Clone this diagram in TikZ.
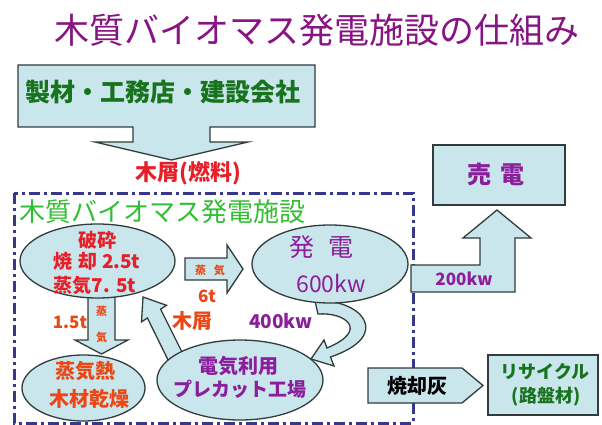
\documentclass[tikz,border=0pt]{standalone}
\usepackage{fontspec}
\setmainfont{Noto Sans CJK JP}
\usetikzlibrary{shapes.geometric}
\definecolor{lb}{RGB}{200,230,235}
\definecolor{edge}{RGB}{50,60,60}
\definecolor{ttl}{RGB}{135,20,130}
\definecolor{dgreen}{RGB}{25,115,30}
\definecolor{lgreen}{RGB}{50,190,50}
\definecolor{red1}{RGB}{232,30,40}
\definecolor{orng}{RGB}{236,70,20}
\definecolor{purp}{RGB}{140,30,155}
\definecolor{navy}{RGB}{55,55,140}
\newcommand\fsz[1]{\fontsize{#1}{#1}\selectfont}
\begin{document}
\begin{tikzpicture}[x=1pt,y=-1pt,
  blk/.style={fill=lb,draw=edge,line width=1.3pt,line join=miter},
  ell/.style={ellipse,draw=edge,fill=lb,line width=1.3pt,inner sep=0},
  txt/.style={inner sep=0,anchor=center}]
\useasboundingbox (0,0) rectangle (602,425);
\fill[white] (0,0) rectangle (602,425);

% title
\node[txt,text=ttl,font=\fsz{35}] (title) at (317,30) {木質バイオマス発電施設の仕組み};

% company box with arrow
\draw[blk] (18,65) -- (315,65) -- (315,127) -- (210,127) -- (210,142) -- (248,142)
  -- (171.5,160) -- (95,142) -- (133,142) -- (133,127) -- (18,127) -- cycle;
\node[txt,text=dgreen,font=\fsz{25}\bfseries] (comp) at (163,92) {製材・工務店・建設会社};
\node[txt,text=red1,font=\fsz{22}\bfseries] (fuel) at (188,173) {木屑(燃料)};

% facility border
\draw[navy,line width=3pt,dash pattern=on 11pt off 4pt on 3pt off 4pt] (14,193) rectangle (413,423);
\node[txt,anchor=west,text=lgreen,font=\fsz{26}] (fac) at (19,212) {木質バイオマス発電施設};

% 200kw bent arrow
\draw[blk] (411,265) -- (480,265) -- (480,238) -- (463,238) -- (497,210) -- (531,238)
  -- (515,238) -- (515,292) -- (411,292) -- cycle;
\node[txt,text=purp,font=\fsz{17}\bfseries] (kw200) at (464,279) {200kw};

% sale box
\node[draw=edge,fill=lb,line width=1.3pt,minimum width=132,minimum height=60,inner sep=0] (sale) at (499,175) {};
\node[txt,text=purp,font=\fsz{24}\bfseries] (saletxt) at (496,174) {売\hspace{10pt}電};

% steam arrow right
\draw[blk] (185,258) -- (227,258) -- (227,245) -- (243,269) -- (227,293) -- (227,280) -- (185,280) -- cycle;
\node[txt,text=orng,font=\fsz{11}\bfseries] (st1) at (210,270) {蒸\hspace{8pt}気};
\node[txt,text=orng,font=\fsz{17}\bfseries] (t6) at (207,296) {6t};

% steam arrow down
\draw[blk] (88,285) -- (115,285) -- (115,340) -- (128,340) -- (101.5,354) -- (75,340) -- (88,340) -- cycle;
\node[txt,text=orng,font=\fsz{11}\bfseries] (st2a) at (101.5,311) {蒸};
\node[txt,text=orng,font=\fsz{11}\bfseries] (st2b) at (101.5,337) {気};
\node[txt,text=orng,font=\fsz{17}\bfseries] (t15) at (70,322) {1.5t};

% wood chip arrow diagonal
\draw[blk] (143,297) -- (166.5,305.3) -- (160.6,309.2) -- (186,360) -- (172,368)
  -- (147.4,318) -- (141.5,321.9) -- cycle;
\node[txt,text=orng,font=\fsz{20}\bfseries] (chip) at (192,321) {木屑};

% curved arrow 400kw
\draw[blk] (315,301) .. controls (360,298) and (395,335) .. (330.5,357)
  -- (334,366) -- (311,359) -- (324,340) -- (327,348)
  .. controls (370,330) and (345,312) .. (318,314) -- cycle;
\node[txt,text=purp,font=\fsz{19}\bfseries] (kw400) at (281,321) {400kw};

% ellipses
\node[ell,minimum width=155,minimum height=74] (e1) at (97.5,261) {};
\node[txt,text=red1,font=\fsz{19}\bfseries] (e1a) at (97,240) {破砕};
\node[txt,text=red1,font=\fsz{19}\bfseries] (e1b) at (97,261) {焼\hspace{6pt}却 2.5t};
\node[txt,text=red1,font=\fsz{19}\bfseries] (e1c) at (95,285) {蒸気7. 5t};

\node[ell,minimum width=156,minimum height=78] (e2) at (330,264) {};
\node[txt,text=purp,font=\fsz{25}] (e2a) at (321,247) {発\hspace{14pt}電};
\node[txt,text=purp,font=\fsz{23}] (e2b) at (331,283) {600kw};

\node[ell,minimum width=166,minimum height=80] (e3) at (240,380) {};
\node[txt,text=purp,font=\fsz{20}\bfseries] (e3a) at (238,366) {電気利用};
\node[txt,text=purp,font=\fsz{19}\bfseries] (e3b) at (240,389) {プレカット工場};

\node[ell,minimum width=123,minimum height=66] (e4) at (83.5,388) {};
\node[txt,text=orng,font=\fsz{20}\bfseries] (e4a) at (85,371) {蒸気熱};
\node[txt,text=orng,font=\fsz{20}\bfseries] (e4b) at (89,399) {木材乾燥};

% ash arrow and recycle box
\draw[blk] (368,368) -- (462,368) -- (483,385.5) -- (462,403) -- (368,403) -- cycle;
\node[txt,text=black,font=\fsz{20}\bfseries] (ash) at (417,386) {焼却灰};
\node[draw=edge,fill=lb,line width=1.3pt,minimum width=110,minimum height=60,inner sep=0] (rec) at (543,385) {};
\node[txt,text=dgreen,font=\fsz{18}\bfseries] (reca) at (545,372) {リサイクル};
\node[txt,text=dgreen,font=\fsz{18}\bfseries] (recb) at (546,397) {(路盤材)};
\end{tikzpicture}
\end{document}
